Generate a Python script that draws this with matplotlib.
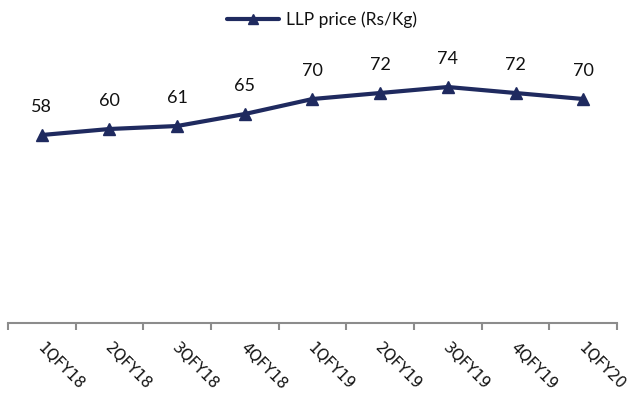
import matplotlib
matplotlib.use("Agg")
import matplotlib.pyplot as plt
import matplotlib.transforms as mtransforms
import numpy as np

quarters = ["1QFY18", "2QFY18", "3QFY18", "4QFY18", "1QFY19",
            "2QFY19", "3QFY19", "4QFY19", "1QFY20"]
llp_price = [58, 60, 61, 65, 70, 72, 74, 72, 70]

navy = "#1F2A5F"
axis_grey = "#8C8C8C"

fig = plt.figure(figsize=(6.33, 3.96), dpi=100)
ax = fig.add_axes([8 / 633, 1 - 323 / 396, 609 / 633, 283 / 396])

x = np.arange(len(quarters))
line, = ax.plot(x, llp_price, color=navy, lw=3.0, marker="^", ms=9,
                markerfacecolor=navy, markeredgecolor=navy,
                label="LLP price (Rs/Kg)", solid_capstyle="round")

for xi, v in zip(x, llp_price):
    ax.annotate(f"{v}", (xi, v), xytext=(0, 20), textcoords="offset points",
                ha="center", va="center", fontsize=13, family="Lato",
                color="#111111")

ax.set_xlim(-0.5, len(quarters) - 0.5)
ax.set_ylim(-4.67, 89.67)

for side in ("left", "right", "top"):
    ax.spines[side].set_visible(False)
ax.spines["bottom"].set_color(axis_grey)
ax.spines["bottom"].set_linewidth(1.5)
ax.set_yticks([])

ax.set_xticks(x)
ax.set_xticklabels(quarters, rotation=-45, ha="left", va="top",
                   rotation_mode="anchor", fontsize=11, family="DejaVu Sans",
                   color="#111111")
ax.tick_params(axis="x", which="major", length=0, pad=12)
shift = mtransforms.ScaledTranslation(3 / 100, 0, fig.dpi_scale_trans)
for lbl in ax.get_xticklabels():
    lbl.set_transform(lbl.get_transform() + shift)
ax.set_xticks(np.arange(-0.5, len(quarters)), minor=True)
ax.tick_params(axis="x", which="minor", length=5, width=1.5, color=axis_grey,
               direction="out")

leg = fig.legend(handles=[line], loc="center", bbox_to_anchor=(322 / 633, 1 - 20 / 396),
                 frameon=False, prop={"family": "Lato", "size": 12.5},
                 handlelength=3.0, handletextpad=0.4, markerscale=0.8)
for t in leg.get_texts():
    t.set_color("#111111")

fig.savefig("out.png", dpi=100)
